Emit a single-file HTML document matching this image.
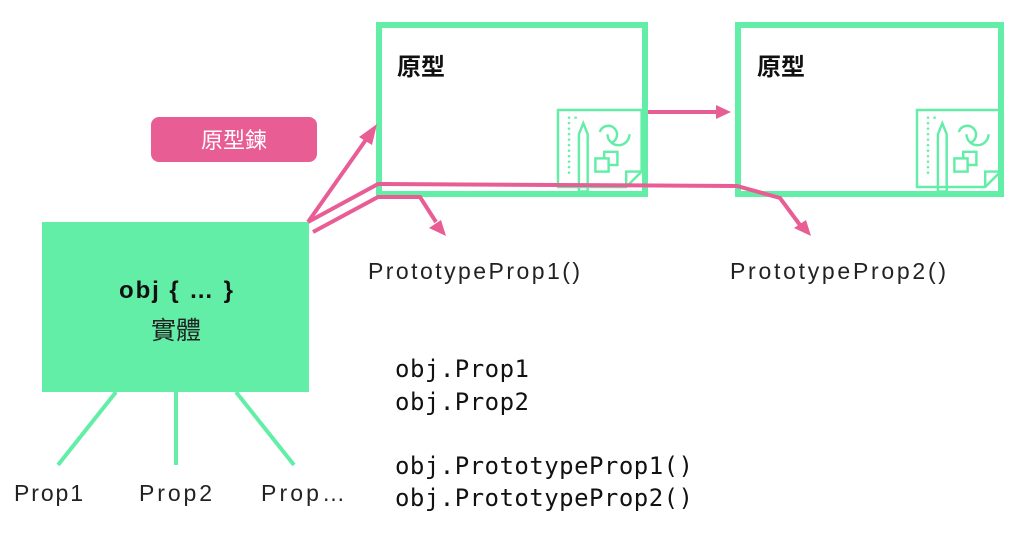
<!DOCTYPE html>
<html><head><meta charset="utf-8"><style>
html,body{margin:0;padding:0;background:#fff;width:1024px;height:537px;overflow:hidden}
</style></head><body>
<svg width="1024" height="537" viewBox="0 0 1024 537" xmlns="http://www.w3.org/2000/svg">
<defs>
<g id="icon" fill="none" stroke="#62eea6" stroke-width="2.2">
  <path d="M0 0 H76 V56 L62 70 H0 Z"/>
  <path d="M62 70 V56 H76"/>
  <path d="M10 6 V60" stroke-dasharray="2 3"/>
  <path d="M16 6 V10" stroke-dasharray="2 3"/>
  <path d="M19 74 V22 L23 12 L27 22 V74 Z"/>
  <path d="M38 20 a8 8 0 1 1 10 10" />
  <path d="M45 22 a10 10 0 0 0 20 0"/>
  <rect x="34" y="44" width="12" height="12"/>
  <path d="M42 44 V38 H54 V50 H46"/>
</g>
</defs>
<rect x="379" y="25" width="266" height="169" fill="#fff" stroke="#62eea6" stroke-width="6"/>
<rect x="738" y="25" width="263" height="169" fill="#fff" stroke="#62eea6" stroke-width="6"/>
<text x="397" y="75" font-family="'Liberation Sans','Noto Sans CJK TC',sans-serif" font-size="24" font-weight="bold" fill="#111">原型</text>
<text x="757" y="75" font-family="'Liberation Sans','Noto Sans CJK TC',sans-serif" font-size="24" font-weight="bold" fill="#111">原型</text>
<use href="#icon" transform="translate(558,110) scale(1.1)"/>
<use href="#icon" transform="translate(917,110) scale(1.1)"/>
<rect x="151" y="117" width="166" height="45" rx="8" fill="#e95d95"/>
<text x="234" y="148" text-anchor="middle" font-family="'Liberation Sans','Noto Sans CJK TC',sans-serif" font-size="22" fill="#fff">原型鍊</text>
<rect x="42" y="222" width="267" height="170" fill="#62eea6"/>
<text x="176" y="298" text-anchor="middle" font-family="'Liberation Sans',sans-serif" font-size="24" font-weight="bold" fill="#111" textLength="114">obj { … }</text>
<text x="176" y="339" text-anchor="middle" font-family="'Liberation Sans','Noto Sans CJK TC',sans-serif" font-size="25" fill="#222">實體</text>
<g stroke="#62eea6" stroke-width="4">
<line x1="116" y1="392" x2="58" y2="465"/>
<line x1="176" y1="392" x2="176" y2="465"/>
<line x1="236" y1="392" x2="294" y2="465"/>
</g>
<g font-family="'Liberation Sans',sans-serif" font-size="23" fill="#222">
<text x="14" y="501" textLength="69">Prop1</text>
<text x="139" y="501" textLength="73">Prop2</text>
<text x="261" y="501" textLength="84">Prop…</text>
<text x="368" y="279" textLength="212">PrototypeProp1()</text>
<text x="730" y="279" textLength="216">PrototypeProp2()</text>
</g>
<g stroke="#e95d95" stroke-width="4" fill="none">
<line x1="308" y1="222" x2="370" y2="134"/>
<polyline points="308,222 378,184 737,186 780,198 800,225"/>
<polyline points="313,232 378,197 420,197 436,222"/>
<line x1="648" y1="112" x2="718" y2="112"/>
</g>
<g fill="#e95d95">
<polygon points="377,124 359,137 372,145"/>
<polygon points="811,236 794,228 806,220"/>
<polygon points="446,236 429,228 441,220"/>
<polygon points="731,112 716,105 716,119"/>
</g>
<g font-family="'DejaVu Sans Mono','Liberation Mono',monospace" font-size="24" fill="#111">
<text x="395" y="377" textLength="134">obj.Prop1</text>
<text x="395" y="410" textLength="134">obj.Prop2</text>
<text x="395" y="474" textLength="298">obj.PrototypeProp1()</text>
<text x="395" y="506" textLength="298">obj.PrototypeProp2()</text>
</g>
</svg>
</body></html>
